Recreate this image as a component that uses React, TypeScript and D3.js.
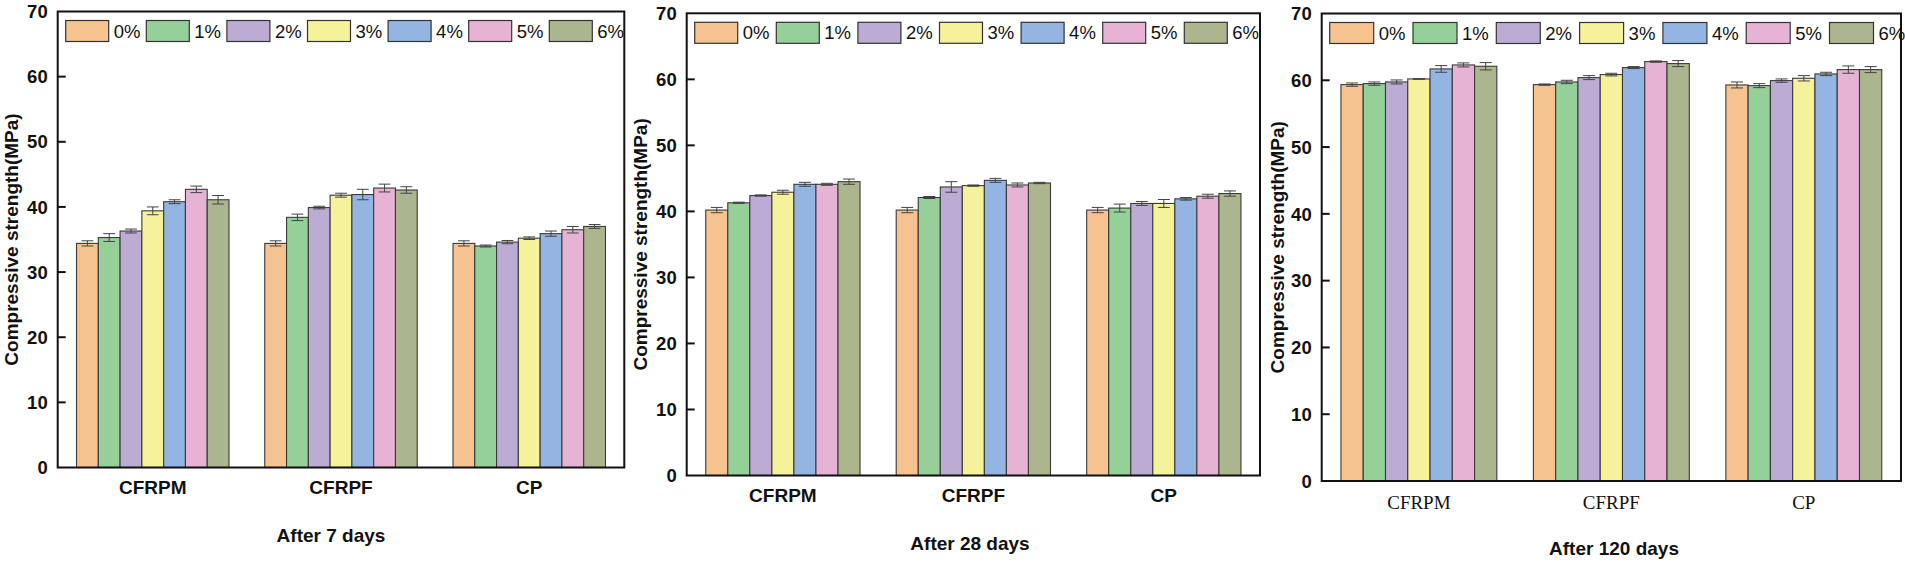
import React from 'react';
import * as d3 from 'd3';

// categories and series
const groups = ['CFRPM', 'CFRPF', 'CP'];
const series = ['0%', '1%', '2%', '3%', '4%', '5%', '6%'];
const colors = ['#F5C290', '#94D098', '#BCACD4', '#F6F29C', '#94B4E2', '#E6B3D5', '#ABB68E'];
const yTicks = [0, 10, 20, 30, 40, 50, 60, 70];

// compressive strength (MPa), rows = groups, columns = series
const day7 = [
  [34.4, 35.3, 36.3, 39.4, 40.8, 42.7, 41.1],
  [34.4, 38.4, 39.9, 41.8, 41.9, 42.9, 42.6],
  [34.4, 34.0, 34.6, 35.2, 35.9, 36.5, 37.0],
];
const day7Err = [
  [0.4, 0.6, 0.3, 0.6, 0.3, 0.5, 0.65],
  [0.4, 0.5, 0.2, 0.3, 0.8, 0.6, 0.5],
  [0.4, 0.15, 0.25, 0.2, 0.4, 0.5, 0.3],
];
const day28 = [
  [40.2, 41.3, 42.4, 42.9, 44.1, 44.1, 44.5],
  [40.2, 42.1, 43.7, 43.9, 44.7, 44.0, 44.3],
  [40.2, 40.5, 41.2, 41.2, 41.9, 42.3, 42.7],
];
const day28Err = [
  [0.4, 0.1, 0.1, 0.3, 0.3, 0.15, 0.4],
  [0.4, 0.15, 0.8, 0.1, 0.3, 0.3, 0.1],
  [0.4, 0.6, 0.3, 0.6, 0.2, 0.3, 0.4],
];
const day120 = [
  [59.35, 59.5, 59.75, 60.2, 61.7, 62.3, 62.1],
  [59.35, 59.75, 60.4, 60.85, 61.9, 62.8, 62.5],
  [59.3, 59.2, 59.95, 60.3, 60.95, 61.6, 61.6],
];
const day120Err = [
  [0.25, 0.25, 0.3, 0.05, 0.5, 0.3, 0.55],
  [0.1, 0.25, 0.3, 0.2, 0.15, 0.1, 0.45],
  [0.45, 0.3, 0.25, 0.4, 0.25, 0.55, 0.45],
];

const sans = 'Arial, "Liberation Sans", sans-serif';
const serif = '"Times New Roman", "Liberation Serif", serif';

interface PanelProps {
  values: number[][];
  errors: number[][];
  title: string;
  left: number;
  right: number;
  top: number;
  bottom: number;
  legendStep: number;
  legendBoxW: number;
  catFont: string;
  catWeight: string | number;
  catY: number;
  titleX: number;
  titleY: number;
  yLabelX: number;
}

const Panel: React.FC<PanelProps> = (p) => {
  const x0 = d3.scaleBand<string>().domain(groups).range([p.left, p.right]).paddingInner(0.19).paddingOuter(0.1);
  const x1 = d3.scaleBand<string>().domain(series).range([0, x0.bandwidth()]);
  const y = d3.scaleLinear().domain([0, 70]).range([p.bottom, p.top]);
  const bw = x1.bandwidth();
  const cap = bw * 0.27;
  const midY = (p.top + p.bottom) / 2;

  return (
    <g>
      {/* bars */}
      {groups.map((g, gi) => (
        <g key={g} transform={`translate(${x0(g)},0)`}>
          {series.map((s, si) => {
            const v = p.values[gi][si];
            const e = p.errors[gi][si];
            const cx = (x1(s) || 0) + bw / 2;
            return (
              <g key={s}>
                <rect x={x1(s)} y={y(v)} width={bw} height={y(0) - y(v)}
                  fill={colors[si]} stroke="#3a3a3a" strokeWidth={1.1} />
                <line x1={cx} x2={cx} y1={y(v + e)} y2={y(v - e)} stroke="#444" strokeWidth={1} />
                <line x1={cx - cap} x2={cx + cap} y1={y(v + e)} y2={y(v + e)} stroke="#444" strokeWidth={1} />
                <line x1={cx - cap} x2={cx + cap} y1={y(v - e)} y2={y(v - e)} stroke="#444" strokeWidth={1} />
              </g>
            );
          })}
        </g>
      ))}

      {/* frame */}
      <rect x={p.left} y={p.top} width={p.right - p.left} height={p.bottom - p.top}
        fill="none" stroke="#111" strokeWidth={2} />

      {/* y ticks */}
      {yTicks.map((t) => (
        <g key={t}>
          {t > 0 && t < 70 && (
            <line x1={p.left} x2={p.left + 8} y1={y(t)} y2={y(t)} stroke="#111" strokeWidth={2} />
          )}
          <text x={p.left - 10} y={y(t)} dy="0.36em" textAnchor="end"
            fontFamily={sans} fontWeight="bold" fontSize={18.5} fill="#111">{t}</text>
        </g>
      ))}

      {/* y label */}
      <text transform={`translate(${p.yLabelX},${midY}) rotate(-90)`} textAnchor="middle" dy="0.36em"
        fontFamily={sans} fontWeight="bold" fontSize={19} fill="#111">Compressive strength(MPa)</text>

      {/* category labels */}
      {groups.map((g) => (
        <text key={g} x={(x0(g) || 0) + x0.bandwidth() / 2} y={p.catY} dy="0.36em" textAnchor="middle"
          fontFamily={p.catFont} fontWeight={p.catWeight} fontSize={19} fill="#111">{g}</text>
      ))}

      {/* title */}
      <text x={p.titleX} y={p.titleY} dy="0.36em" textAnchor="middle"
        fontFamily={sans} fontWeight="bold" fontSize={19} fill="#111">{p.title}</text>

      {/* legend */}
      {series.map((s, si) => {
        const lx = p.left + 8 + si * p.legendStep;
        const ly = p.top + 9;
        return (
          <g key={s}>
            <rect x={lx} y={ly} width={p.legendBoxW} height={21} fill={colors[si]} stroke="#333" strokeWidth={1.2} />
            <text x={lx + p.legendBoxW + 5} y={ly + 10.5} dy="0.36em"
              fontFamily={sans} fontSize={18.5} fill="#111">{s}</text>
          </g>
        );
      })}
    </g>
  );
};

export default function App() {
  return (
    <svg width={1905} height={564} style={{ position: 'absolute', left: 0, top: 0, background: '#fff' }}>
      <Panel values={day7} errors={day7Err} title="After 7 days"
        left={57.7} right={624.3} top={11.5} bottom={467.5}
        legendStep={80.6} legendBoxW={43} catFont={sans} catWeight="bold" catY={487} titleX={331} titleY={535} yLabelX={11} />
      <Panel values={day28} errors={day28Err} title="After 28 days"
        left={686.7} right={1260} top={13.3} bottom={475.5}
        legendStep={81.6} legendBoxW={43} catFont={sans} catWeight="bold" catY={495} titleX={970} titleY={543} yLabelX={640} />
      <Panel values={day120} errors={day120Err} title="After 120 days"
        left={1321.7} right={1901} top={13.5} bottom={481}
        legendStep={83.3} legendBoxW={44} catFont={serif} catWeight="normal" catY={502} titleX={1614} titleY={548} yLabelX={1277} />
    </svg>
  );
}
